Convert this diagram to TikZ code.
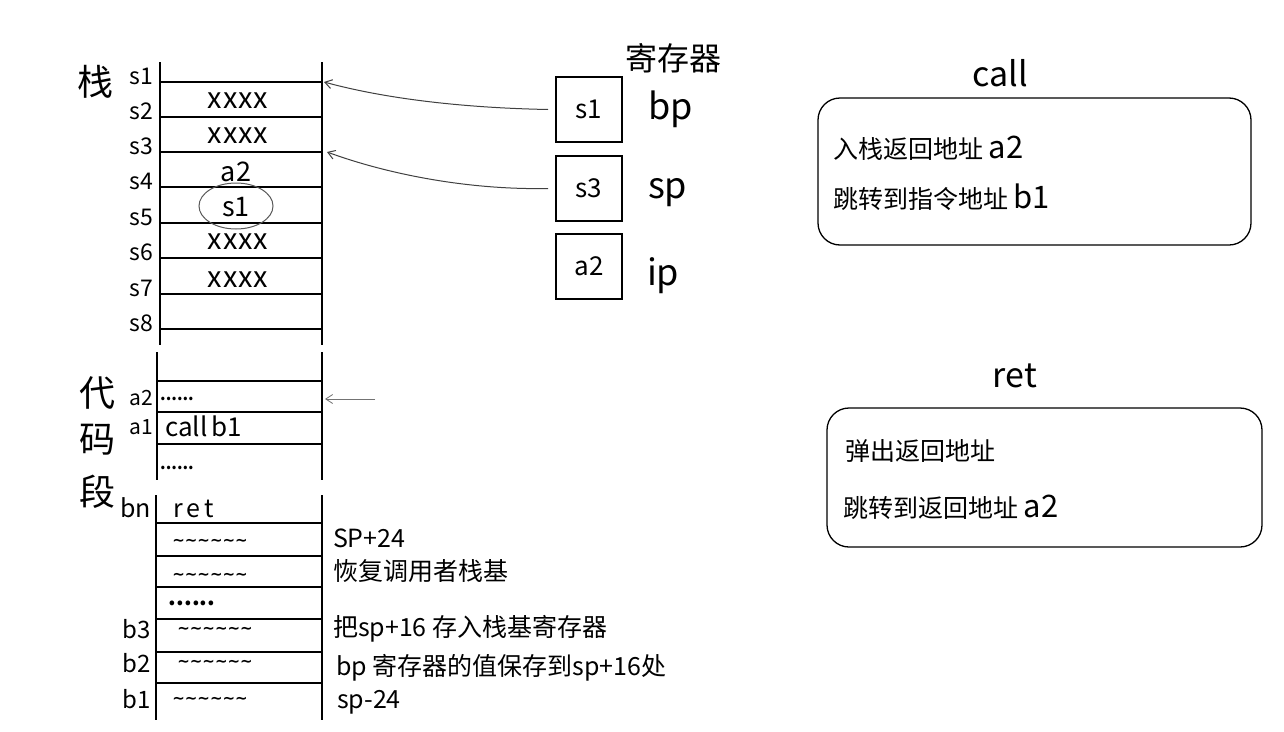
\documentclass[tikz,border=0pt]{standalone}
\usepackage{fontspec}
\setmainfont{Noto Sans CJK SC}
\newfontfamily\dv{DejaVu Sans}
\usetikzlibrary{arrows.meta}
\newcommand\myfs[1]{\fontsize{#1}{#1}\selectfont}
\newcommand\tld{{\dv\bfseries\textasciitilde\textasciitilde\textasciitilde\textasciitilde\textasciitilde\textasciitilde}}
\begin{document}
\begin{tikzpicture}[x=1pt,y=-1pt,
  every node/.append style={inner sep=0pt,outer sep=0pt},
  stk/.style={line width=1.8pt},
  slab/.style={anchor=base east,font=\myfs{23}},
  cell/.style={font=\myfs{29}},
  regbox/.style={draw,line width=1.3pt,minimum width=66pt,minimum height=65pt,font=\myfs{26}},
  reglab/.style={anchor=base west,font=\myfs{36}},
  arr/.style={-{Straight Barb[length=7pt,width=9pt]},line width=1pt,draw=black!75},
  note/.style={anchor=base west,font=\myfs{25}},
  infobox/.style={draw,line width=1.3pt,rounded corners=22pt},
  big/.style={font=\myfs{36}},
  tilde/.style={font=\myfs{15}}
]
\useasboundingbox[fill=white] (0,0) rectangle (1284,731);

% ---------- stack ----------
\node[big] (zhan) at (95,82) {栈};
\draw[stk] (160,62) -- (160,345);
\draw[stk] (322,62) -- (322,345);
\foreach \y/\n in {82/1,117/2,152/3,187/4,223/5,258/6,294/7,329/8}{
  \draw[stk] (160,\y) -- (322,\y);
  \node[slab] (sl\n) at (153,\y+2) {s\n};
}
\node[cell] (c1) at (238,101) {x\kern1pt x\kern1pt x\kern1pt x};
\node[cell] (c2) at (238,136) {x\kern1pt x\kern1pt x\kern1pt x};
\node[font=\myfs{27}] (c3) at (236,172) {a2};
\node[font=\myfs{27}] (c4) at (236,207) {s1};
\draw[line width=1pt,draw=black!65] (236,206) ellipse [x radius=37,y radius=23];
\node[cell] (c5) at (238,242) {x\kern1pt x\kern1pt x\kern1pt x};
\node[cell] (c6) at (238,280) {x\kern1pt x\kern1pt x\kern1pt x};
\coordinate (ps1) at (324,82);
\coordinate (ps3) at (327,152);

% ---------- registers ----------
\node[font=\myfs{32}] (regt) at (673,58) {寄存器};
\node[regbox] (rbp) at (589,109.5) {s1};
\node[regbox] (rsp) at (589,188.5) {s3};
\node[regbox] (rip) at (589,266.5) {a2};
\node[reglab] (lbp) at (648,119) {bp};
\node[reglab] (lsp) at (648,198) {sp};
\node[reglab] (lip) at (647,285) {ip};
\draw[arr] ([xshift=-8pt]rbp.west) .. controls (470,108) and (390,100) .. (ps1);
\draw[arr] ([xshift=-8pt]rsp.west) .. controls (470,190) and (390,175) .. (ps3);

% ---------- code segment ----------
\node[big] (dai) at (97,393) {代};
\node[big] (ma) at (97,440) {码};
\node[big] (duan) at (97,492) {段};
\draw[stk] (157,352) -- (157,480);
\draw[stk] (322,352) -- (322,480);
\foreach \y in {381,412,444}{ \draw[stk] (157,\y) -- (322,\y); }
\node[anchor=base east,font=\myfs{21}] (la2) at (153,405) {a2};
\node[anchor=base east,font=\myfs{21}] (la1) at (153,434) {a1};
\node[font=\myfs{16}\bfseries] (d1) at (177,399) {......};
\node[anchor=base west,font=\myfs{26}] (callb) at (165,436) {call\,b1};
\node[font=\myfs{16}\bfseries] (d2) at (177,468) {......};
\coordinate (ca) at (375,399);
\coordinate (pa2) at (325,399);
\draw[arr,draw=black!55,line width=0.8pt] (ca) -- (pa2);

% ---------- function body ----------
\draw[stk] (156,495) -- (156,720);
\draw[stk] (322,495) -- (322,720);
\foreach \y in {523,556,587,619,652,683}{ \draw[stk] (156,\y) -- (322,\y); }
\node[anchor=base east,font=\myfs{25}] (lbn) at (151,517) {bn};
\node[anchor=base west,font=\myfs{25}] (ret) at (173,517) {r\,e\,t};
\node[tilde] (t1) at (210,542) {\tld};
\node[tilde] (t2) at (210,576) {\tld};
\node[font=\myfs{22}\bfseries] (d3) at (192,603) {......};
\node[tilde] (t3) at (215,630) {\tld};
\node[tilde] (t4) at (215,663) {\tld};
\node[tilde] (t5) at (210,700) {\tld};
\node[anchor=base east,font=\myfs{24}] (lb3) at (151,638) {b3};
\node[anchor=base east,font=\myfs{24}] (lb2) at (151,672) {b2};
\node[anchor=base east,font=\myfs{24}] (lb1) at (151,708) {b1};
\node[note] (n1) at (333,547) {SP+24};
\node[note] (n2) at (333,580) {恢复调用者栈基};
\node[note] (n3) at (333,636) {把sp+16 存入栈基寄存器};
\node[note] (n4) at (336,675) {bp 寄存器的值保存到sp+16处};
\node[note] (n5) at (337,708) {sp-24};

% ---------- call / ret ----------
\node[anchor=base,font=\myfs{34}] (tcall) at (1000,86) {call};
\node[infobox,minimum width=433pt,minimum height=147pt] (callbox) at (1034.5,171.5) {};
\node[anchor=base west,font=\myfs{25}] (cl1) at (833,158) {入栈返回地址 {\myfs{31}a2}};
\node[anchor=base west,font=\myfs{25}] (cl2) at (833,208) {跳转到指令地址 {\myfs{31}b1}};

\node[anchor=base,font=\myfs{34}] (tret) at (1015,387) {ret};
\node[infobox,minimum width=435pt,minimum height=139pt] (retbox) at (1044.5,477.5) {};
\node[anchor=base west,font=\myfs{25}] (rl1) at (845,460) {弹出返回地址};
\node[anchor=base west,font=\myfs{25}] (rl2) at (843,517) {跳转到返回地址 {\myfs{31}a2}};
\end{tikzpicture}
\end{document}
